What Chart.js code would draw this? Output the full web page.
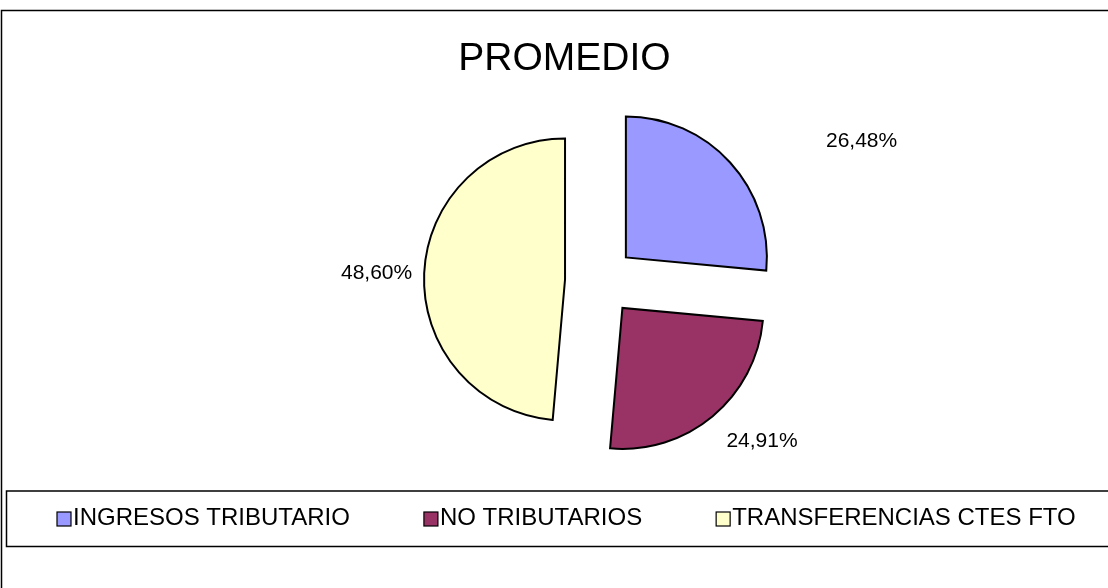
<!DOCTYPE html>
<html>
<head>
<meta charset="utf-8">
<script src="https://cdn.jsdelivr.net/npm/chart.js@4/dist/chart.umd.min.js"></script>
<style>
  html, body { margin: 0; padding: 0; background: #ffffff; }
  #wrap { width: 1108px; height: 588px; position: relative; }
</style>
</head>
<body>
<div id="wrap"><canvas id="c" width="1108" height="588"></canvas></div>
<script>
// ---- data ----
const chartTitle = 'PROMEDIO';
const categories = ['INGRESOS TRIBUTARIO', 'NO TRIBUTARIOS', 'TRANSFERENCIAS CTES FTO'];
const shares = [26.48, 24.91, 48.60];
const sliceColors = ['#9999FF', '#993366', '#FFFFCC'];

// ---- style / layout settings ----
const FONT = "'Liberation Sans', Arial, sans-serif";
const EXPLODE = 35;          // px each slice is pulled out
const LABEL_GAP = 12;        // px between slice edge and its label
const labelNudge = [[87, -3], [6, 5], [0, 0]];

const fmt = v => v.toFixed(2).replace('.', ',') + '%';

const explodePlugin = {
  id: 'explode',
  beforeDatasetDraw(chart, args) {
    const ctx = chart.ctx;
    args.meta.data.forEach(arc => {
      const mid = (arc.startAngle + arc.endAngle) / 2;
      ctx.save();
      ctx.translate(Math.cos(mid) * EXPLODE, Math.sin(mid) * EXPLODE);
      arc.draw(ctx);
      ctx.restore();
    });
    return false;
  },
  afterDatasetsDraw(chart) {
    const ctx = chart.ctx;
    const meta = chart.getDatasetMeta(0);
    const ds = chart.data.datasets[0];
    ctx.save();
    ctx.font = '21px ' + FONT;
    ctx.fillStyle = '#000';
    meta.data.forEach((arc, i) => {
      const mid = (arc.startAngle + arc.endAngle) / 2;
      const c = Math.cos(mid), s = Math.sin(mid);
      const r = arc.outerRadius + EXPLODE + LABEL_GAP;
      const x = arc.x + c * r + labelNudge[i][0];
      const y = arc.y + s * r + labelNudge[i][1];
      ctx.textAlign = c > 0.2 ? 'left' : (c < -0.2 ? 'right' : 'center');
      ctx.textBaseline = s > 0.2 ? 'top' : (s < -0.2 ? 'bottom' : 'middle');
      ctx.fillText(fmt(ds.data[i]), x, y);
    });
    ctx.restore();
  }
};

const framePlugin = {
  id: 'frame',
  beforeDraw(chart) {
    const ctx = chart.ctx;
    ctx.save();
    ctx.fillStyle = '#fff';
    ctx.fillRect(0, 0, chart.width, chart.height);
    ctx.strokeStyle = '#000';
    ctx.lineWidth = 1.5;
    // outer chart frame
    ctx.beginPath();
    ctx.moveTo(1.5, chart.height + 5);
    ctx.lineTo(1.5, 10.5);
    ctx.lineTo(chart.width + 5, 10.5);
    ctx.stroke();
    ctx.restore();
  },
  afterDraw(chart) {
    const ctx = chart.ctx;
    ctx.save();
    // title
    ctx.font = '39px ' + FONT;
    ctx.fillStyle = '#000';
    ctx.textAlign = 'center';
    ctx.textBaseline = 'alphabetic';
    ctx.fillText(chartTitle, 564.5, 69.5);
    // legend box
    ctx.strokeStyle = '#000';
    ctx.lineWidth = 1.5;
    ctx.beginPath();
    ctx.moveTo(chart.width + 5, 491);
    ctx.lineTo(6.5, 491);
    ctx.lineTo(6.5, 546.5);
    ctx.lineTo(chart.width + 5, 546.5);
    ctx.stroke();
    // legend items
    ctx.font = '24px ' + FONT;
    ctx.textAlign = 'left';
    ctx.textBaseline = 'alphabetic';
    const ds = chart.data.datasets[0];
    let x = 57;
    const box = 14, gapBox = 2, gapItem = 74, midY = 516;
    chart.data.labels.forEach((lab, i) => {
      ctx.fillStyle = ds.backgroundColor[i];
      ctx.fillRect(x, midY - box / 2 + 3, box, box);
      ctx.lineWidth = 1.2;
      ctx.strokeStyle = '#000';
      ctx.strokeRect(x, midY - box / 2 + 3, box, box);
      ctx.fillStyle = '#000';
      const tx = x + box + gapBox;
      ctx.fillText(lab, tx, midY + 8.6);
      x = tx + ctx.measureText(lab).width + gapItem;
    });
    ctx.restore();
  }
};

new Chart(document.getElementById('c'), {
  type: 'pie',
  data: {
    labels: categories,
    datasets: [{
      data: shares,
      backgroundColor: sliceColors,
      borderColor: '#000000',
      borderWidth: 2,
      borderJoinStyle: 'miter',
      hoverOffset: 0,
      radius: 141
    }]
  },
  options: {
    responsive: false,
    animation: false,
    events: [],
    layout: { padding: { left: 92, right: 0, top: 100, bottom: 126 } },
    plugins: {
      legend: { display: false },
      title: { display: false },
      tooltip: { enabled: false }
    }
  },
  plugins: [framePlugin, explodePlugin]
});
</script>
</body>
</html>
